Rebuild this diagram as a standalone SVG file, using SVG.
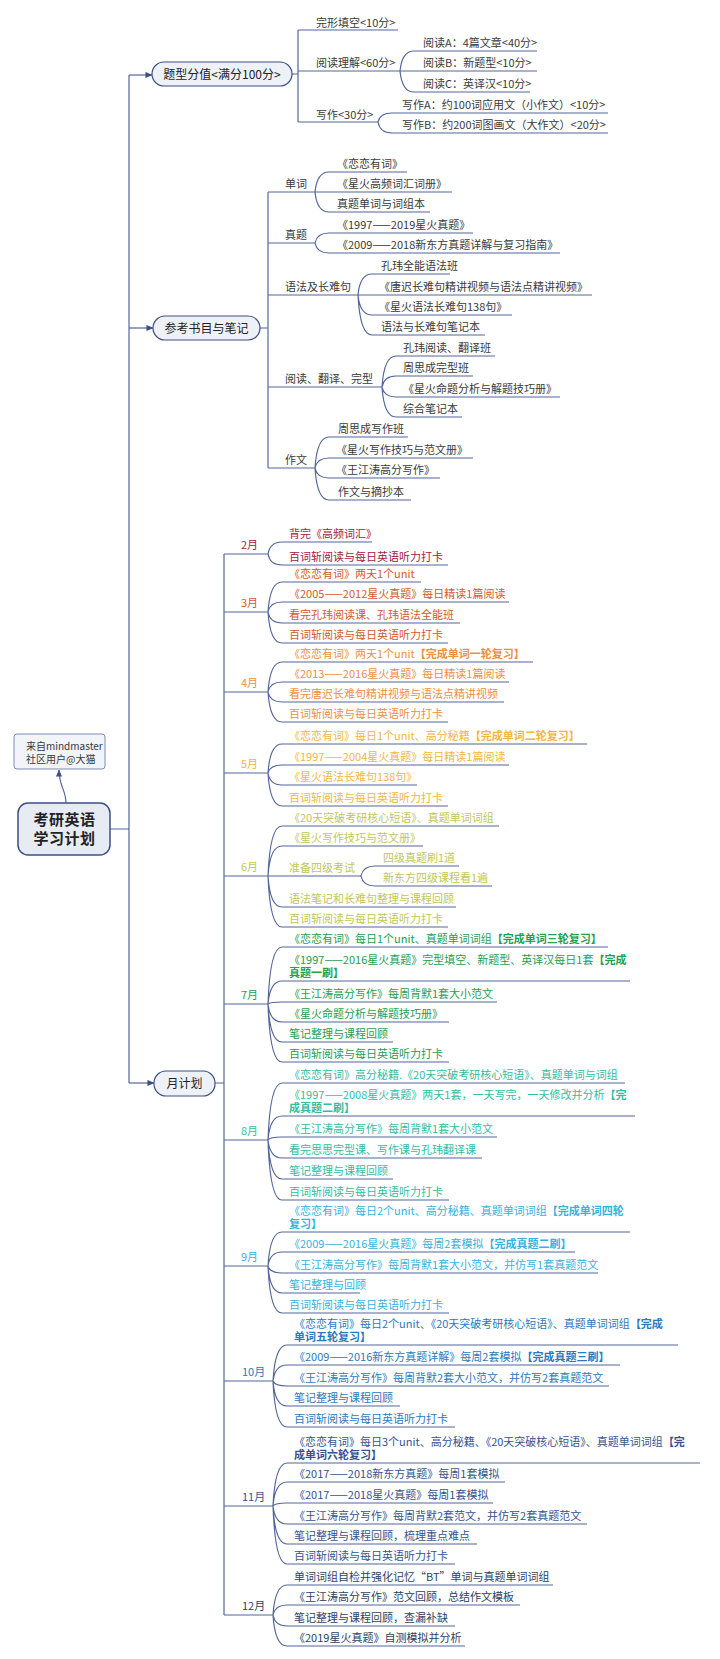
<svg xmlns="http://www.w3.org/2000/svg" width="720" height="1659" viewBox="0 0 720 1659">
<defs>
<style>
text{font-family:"Noto Sans CJK SC","Noto Sans",sans-serif;font-size:11px}
.k{fill:#3a3a3a}
.bx{fill:#222;font-size:12px}
.b{font-weight:bold}
.ln{fill:none;stroke:#54679a;stroke-width:1.2}
.box{fill:#eef2f8;stroke:#3d5082;stroke-width:1.2}
.m2{fill:#a3213c}.m3{fill:#d5582c}.m4{fill:#ee8e3f}.m5{fill:#f2b63f}.m6{fill:#c0c758}
.m7{fill:#23a04e}.m8{fill:#33bd9f}.m9{fill:#36b2de}.m10{fill:#2b79bd}.m11{fill:#34538e}.m12{fill:#2d3f61}
</style>
<marker id="ar" viewBox="0 0 8 8" refX="7.5" refY="4" markerWidth="7" markerHeight="7" markerUnits="userSpaceOnUse" orient="auto"><path d="M0,0.5 L8,4 L0,7.5 z" fill="#3d5082"/></marker>
</defs>
<rect width="720" height="1659" fill="#ffffff"/>

<g id="connectors">
<path class="ln" d="M110,829H129M129,75V1083"/>
<path class="ln" marker-end="url(#ar)" d="M129,75H152"/>
<path class="ln" marker-end="url(#ar)" d="M129,328H153"/>
<path class="ln" marker-end="url(#ar)" d="M129,1083H154"/>
<path class="ln" marker-end="url(#ar)" d="M66,803C66,790 59,786 59,770"/>
<!-- top section -->
<path class="ln" d="M292,74H298M298,30V122M298,30H398M298,71H400M298,122H378"/>
<path class="ln" d="M400,71Q402,51 414,51H537M400,71H537M400,71Q402,92 414,92H530"/>
<path class="ln" d="M378,122Q380,113 392,113H608M378,122Q380,133 392,133H608"/>
<!-- reference section -->
<path class="ln" d="M260,328H268M268,192V468M268,192H315M268,243H315M268,295H358M268,387H382M268,468H315"/>
<path class="ln" d="M315,192Q317,172 329,172H407M315,192H452M315,192Q317,212 329,212H430"/>
<path class="ln" d="M315,243Q317,233 329,233H473M315,243Q317,253 329,253H560"/>
<path class="ln" d="M358,295Q360,274 372,274H450M358,295H592M358,295Q360,315 372,315H512M358,295Q360,335 372,335H485"/>
<path class="ln" d="M382,387Q384,356 396,356H495M382,387Q384,376 396,376H473M382,387Q384,397 396,397H560M382,387Q384,417 396,417H462"/>
<path class="ln" d="M315,468Q317,437 329,437H408M315,468Q317,458 329,458H473M315,468Q317,478 329,478H440M315,468Q317,500 329,500H411"/>
<!-- months -->
<path class="ln" d="M215,1083H224M224,554V1615M224,554H268M224,612H268M224,692H268M224,773H268M224,876H268M224,1004H268M224,1140H268M224,1266H268M224,1381H273M224,1506H273M224,1615H273"/>
<path class="ln" d="M268,554Q270,542 282,542H372M268,554Q270,565 282,565H448"/>
<path class="ln" d="M268,612Q270,582 282,582H421M268,612Q270,602 282,602H509M268,612Q270,623 282,623H460M268,612Q270,643 282,643H448"/>
<path class="ln" d="M268,692Q270,662 282,662H533M268,692Q270,682 282,682H509M268,692Q270,702 282,702H504M268,692Q270,722 282,722H448"/>
<path class="ln" d="M268,773Q270,744 282,744H587M268,773Q270,765 282,765H509M268,773Q270,785 282,785H417M268,773Q270,806 282,806H448"/>
<path class="ln" d="M268,876Q270,826 282,826H499M268,876Q270,846 282,846H423M268,876H361M268,876Q270,907 282,907H456M268,876Q270,927 282,927H448"/>
<path class="ln" d="M361,876Q363,866 375,866H459M361,876Q363,886 375,886H492"/>
<path class="ln" d="M268,1004Q270,947 282,947H608M268,1004Q270,981 282,981H630M268,1004Q270,1002 282,1002H497M268,1004Q270,1022 282,1022H449M268,1004Q270,1042 282,1042H393M268,1004Q270,1062 282,1062H449"/>
<path class="ln" d="M268,1140Q270,1083 282,1083H625M268,1140Q270,1116 282,1116H635M268,1140Q270,1137 282,1137H497M268,1140Q270,1158 282,1158H482M268,1140Q270,1179 282,1179H393M268,1140Q270,1200 282,1200H449"/>
<path class="ln" d="M268,1266Q270,1232 282,1232H630M268,1266Q270,1252 282,1252H575M268,1266Q270,1273 282,1273H598M268,1266Q270,1293 282,1293H360M268,1266Q270,1313 282,1313H449"/>
<path class="ln" d="M273,1381Q275,1345 287,1345H678M273,1381Q275,1365 287,1365H620M273,1381Q275,1386 287,1386H609M273,1381Q275,1406 287,1406H400M273,1381Q275,1427 287,1427H455"/>
<path class="ln" d="M273,1506Q275,1463 287,1463H700M273,1506Q275,1482 287,1482H505M273,1506Q275,1503 287,1503H493M273,1506Q275,1524 287,1524H587M273,1506Q275,1544 287,1544H477M273,1506Q275,1564 287,1564H455"/>
<path class="ln" d="M273,1615Q275,1585 287,1585H553M273,1615Q275,1605 287,1605H520M273,1615Q275,1626 287,1626H455M273,1615Q275,1646 287,1646H465"/>
</g>

<g id="n-root"><rect x="18" y="803" width="92" height="52" rx="10" fill="#e7ecf4" stroke="#3d5082" stroke-width="1.5"/>
<text x="64.5" y="825" text-anchor="middle" style="font-size:15px;font-weight:bold;letter-spacing:0.5px" fill="#222">考研英语</text>
<text x="64.5" y="844" text-anchor="middle" style="font-size:15px;font-weight:bold;letter-spacing:0.5px" fill="#222">学习计划</text></g>
<g id="n-note"><rect x="14" y="734" width="91" height="35" rx="3" fill="#f1f4f9" stroke="#7d8db0" stroke-width="1"/>
<text class="k" x="26" y="750" style="font-size:10px">来自mindmaster</text>
<text class="k" x="26" y="763" style="font-size:10px">社区用户@大猫</text></g>

<g id="n-tixing"><rect class="box" x="152" y="62" width="140" height="24" rx="12"/><text class="bx" x="222" y="78.5" text-anchor="middle">题型分值&lt;满分100分&gt;</text></g>
<g id="n-wanxing"><text class="k" x="316" y="27">完形填空&lt;10分&gt;</text></g>
<g id="n-yuedu"><text class="k" x="316" y="67">阅读理解&lt;60分&gt;</text></g>
<g id="n-yda"><text class="k" x="423" y="47">阅读A：4篇文章&lt;40分&gt;</text></g>
<g id="n-ydb"><text class="k" x="423" y="67">阅读B：新题型&lt;10分&gt;</text></g>
<g id="n-ydc"><text class="k" x="423" y="88">阅读C：英译汉&lt;10分&gt;</text></g>
<g id="n-xiezuo"><text class="k" x="316" y="119">写作&lt;30分&gt;</text></g>
<g id="n-xza"><text class="k" x="402" y="109">写作A：约100词应用文（小作文）&lt;10分&gt;</text></g>
<g id="n-xzb"><text class="k" x="402" y="129">写作B：约200词图画文（大作文）&lt;20分&gt;</text></g>

<g id="n-cankao"><rect class="box" x="153" y="316" width="107" height="24" rx="12"/><text class="bx" x="206.5" y="332.5" text-anchor="middle">参考书目与笔记</text></g>
<g id="n-danci"><text class="k" x="285" y="188">单词</text></g>
<g id="n-dc1"><text class="k" x="337" y="168">《恋恋有词》</text></g>
<g id="n-dc2"><text class="k" x="337" y="188">《星火高频词汇词册》</text></g>
<g id="n-dc3"><text class="k" x="337" y="208">真题单词与词组本</text></g>
<g id="n-zhenti"><text class="k" x="285" y="239">真题</text></g>
<g id="n-zt1"><text class="k" x="337" y="229">《1997——2019星火真题》</text></g>
<g id="n-zt2"><text class="k" x="337" y="249">《2009——2018新东方真题详解与复习指南》</text></g>
<g id="n-yufa"><text class="k" x="285" y="291">语法及长难句</text></g>
<g id="n-yf1"><text class="k" x="381" y="270">孔玮全能语法班</text></g>
<g id="n-yf2"><text class="k" x="379" y="291">《唐迟长难句精讲视频与语法点精讲视频》</text></g>
<g id="n-yf3"><text class="k" x="379" y="311">《星火语法长难句138句》</text></g>
<g id="n-yf4"><text class="k" x="381" y="331">语法与长难句笔记本</text></g>
<g id="n-ydfy"><text class="k" x="285" y="383">阅读、翻译、完型</text></g>
<g id="n-fy1"><text class="k" x="403" y="352">孔玮阅读、翻译班</text></g>
<g id="n-fy2"><text class="k" x="403" y="372">周思成完型班</text></g>
<g id="n-fy3"><text class="k" x="403" y="393">《星火命题分析与解题技巧册》</text></g>
<g id="n-fy4"><text class="k" x="403" y="413">综合笔记本</text></g>
<g id="n-zuowen"><text class="k" x="285" y="464">作文</text></g>
<g id="n-zw1"><text class="k" x="338" y="433">周思成写作班</text></g>
<g id="n-zw2"><text class="k" x="336" y="454">《星火写作技巧与范文册》</text></g>
<g id="n-zw3"><text class="k" x="336" y="474">《王江涛高分写作》</text></g>
<g id="n-zw4"><text class="k" x="338" y="496">作文与摘抄本</text></g>

<g id="n-yue"><rect class="box" x="154" y="1071" width="61" height="25" rx="12"/><text class="bx" x="184.5" y="1087.5" text-anchor="middle">月计划</text></g>

<g id="n-feb" class="m2"><text x="241" y="549">2月</text>
<text x="289" y="538">背完《高频词汇》</text>
<text x="289" y="561">百词斩阅读与每日英语听力打卡</text></g>

<g id="n-mar" class="m3"><text x="241" y="607">3月</text>
<text x="289" y="578">《恋恋有词》两天1个unit</text>
<text x="289" y="598">《2005——2012星火真题》每日精读1篇阅读</text>
<text x="289" y="619">看完孔玮阅读课、孔玮语法全能班</text>
<text x="289" y="639">百词斩阅读与每日英语听力打卡</text></g>

<g id="n-apr" class="m4"><text x="241" y="687">4月</text>
<text x="289" y="658">《恋恋有词》两天1个unit<tspan class="b">【完成单词一轮复习】</tspan></text>
<text x="289" y="678">《2013——2016星火真题》每日精读1篇阅读</text>
<text x="289" y="698">看完唐迟长难句精讲视频与语法点精讲视频</text>
<text x="289" y="718">百词斩阅读与每日英语听力打卡</text></g>

<g id="n-may" class="m5"><text x="241" y="768">5月</text>
<text x="289" y="740">《恋恋有词》每日1个unit、高分秘籍<tspan class="b">【完成单词二轮复习】</tspan></text>
<text x="289" y="761">《1997——2004星火真题》每日精读1篇阅读</text>
<text x="289" y="781">《星火语法长难句138句》</text>
<text x="289" y="802">百词斩阅读与每日英语听力打卡</text></g>

<g id="n-jun" class="m6"><text x="241" y="871">6月</text>
<text x="289" y="822">《20天突破考研核心短语》、真题单词词组</text>
<text x="289" y="842">《星火写作技巧与范文册》</text>
<text x="289" y="872">准备四级考试</text>
<text x="383" y="862">四级真题刷1道</text>
<text x="383" y="882">新东方四级课程看1遍</text>
<text x="289" y="903">语法笔记和长难句整理与课程回顾</text>
<text x="289" y="923">百词斩阅读与每日英语听力打卡</text></g>

<g id="n-jul" class="m7"><text x="241" y="999">7月</text>
<text x="289" y="943">《恋恋有词》每日1个unit、真题单词词组<tspan class="b">【完成单词三轮复习】</tspan></text>
<text x="289" y="964">《1997——2016星火真题》完型填空、新题型、英译汉每日1套<tspan class="b">【完成</tspan></text>
<text x="289" y="977" class="b">真题一刷】</text>
<text x="289" y="998">《王江涛高分写作》每周背默1套大小范文</text>
<text x="289" y="1018">《星火命题分析与解题技巧册》</text>
<text x="289" y="1038">笔记整理与课程回顾</text>
<text x="289" y="1058">百词斩阅读与每日英语听力打卡</text></g>

<g id="n-aug" class="m8"><text x="241" y="1135">8月</text>
<text x="289" y="1079">《恋恋有词》高分秘籍.《20天突破考研核心短语》、真题单词与词组</text>
<text x="289" y="1099">《1997——2008星火真题》两天1套，一天写完，一天修改并分析<tspan class="b">【完</tspan></text>
<text x="289" y="1112" class="b">成真题二刷】</text>
<text x="289" y="1133">《王江涛高分写作》每周背默1套大小范文</text>
<text x="289" y="1154">看完思思完型课、写作课与孔玮翻译课</text>
<text x="289" y="1175">笔记整理与课程回顾</text>
<text x="289" y="1196">百词斩阅读与每日英语听力打卡</text></g>

<g id="n-sep" class="m9"><text x="241" y="1261">9月</text>
<text x="289" y="1215">《恋恋有词》每日2个unit、高分秘籍、真题单词词组<tspan class="b">【完成单词四轮</tspan></text>
<text x="289" y="1228" class="b">复习】</text>
<text x="289" y="1248">《2009——2016星火真题》每周2套模拟<tspan class="b">【完成真题二刷】</tspan></text>
<text x="289" y="1269">《王江涛高分写作》每周背默1套大小范文，并仿写1套真题范文</text>
<text x="289" y="1289">笔记整理与回顾</text>
<text x="289" y="1309">百词斩阅读与每日英语听力打卡</text></g>

<g id="n-oct" class="m10"><text x="242" y="1376">10月</text>
<text x="294" y="1328">《恋恋有词》每日2个unit、《20天突破考研核心短语》、真题单词词组<tspan class="b">【完成</tspan></text>
<text x="294" y="1341" class="b">单词五轮复习】</text>
<text x="294" y="1361">《2009——2016新东方真题详解》每周2套模拟<tspan class="b">【完成真题三刷】</tspan></text>
<text x="294" y="1382">《王江涛高分写作》每周背默2套大小范文，并仿写2套真题范文</text>
<text x="294" y="1402">笔记整理与课程回顾</text>
<text x="294" y="1423">百词斩阅读与每日英语听力打卡</text></g>

<g id="n-nov" class="m11"><text x="242" y="1501">11月</text>
<text x="294" y="1446">《恋恋有词》每日3个unit、高分秘籍、《20天突破核心短语》、真题单词词组<tspan class="b">【完</tspan></text>
<text x="294" y="1459" class="b">成单词六轮复习】</text>
<text x="294" y="1478">《2017——2018新东方真题》每周1套模拟</text>
<text x="294" y="1499">《2017——2018星火真题》每周1套模拟</text>
<text x="294" y="1520">《王江涛高分写作》每周背默2套范文，并仿写2套真题范文</text>
<text x="294" y="1540">笔记整理与课程回顾，梳理重点难点</text>
<text x="294" y="1560">百词斩阅读与每日英语听力打卡</text></g>

<g id="n-dec" class="m12"><text x="242" y="1610">12月</text>
<text x="294" y="1581">单词词组自检并强化记忆“BT”单词与真题单词词组</text>
<text x="294" y="1601">《王江涛高分写作》范文回顾，总结作文模板</text>
<text x="294" y="1622">笔记整理与课程回顾，查漏补缺</text>
<text x="294" y="1642">《2019星火真题》自测模拟并分析</text></g>
</svg>
